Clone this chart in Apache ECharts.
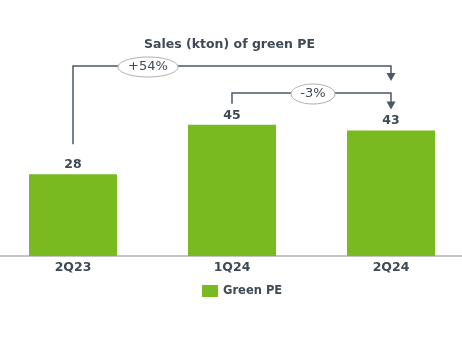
<!DOCTYPE html>
<html>
<head>
<meta charset="utf-8">
<script src="https://cdn.jsdelivr.net/npm/echarts@6/dist/echarts.min.js"></script>
<style>html,body{margin:0;padding:0;background:#fff}#c{width:462px;height:340px}</style>
</head>
<body>
<div id="c"></div>
<script>
const categories = ['2Q23', '1Q24', '2Q24'];
const greenPE = [28, 45, 43];
const seriesName = 'Green PE';
const titleText = 'Sales (kton) of green PE';
const changeFrom = [0, 1];
const changeTo = [2, 2];
const changeLabels = ['+54%', '-3%'];

const GREEN = '#7aba21';
const DARK = '#3e4a56';
const LINE = '#4b5865';
const FONT = 'DejaVu Sans';

const chart = echarts.init(document.getElementById('c'), null, {renderer: 'canvas'});
chart.setOption({
  animation: false,
  backgroundColor: '#fff',
  title: {
    text: titleText, left: 139, top: 33,
    textStyle: {fontFamily: FONT, fontSize: 12.5, fontWeight: 'bold', color: DARK}
  },
  legend: {
    data: [seriesName], left: 202, top: 285, padding: 0, itemWidth: 16, itemHeight: 12, itemGap: 5,
    icon: 'rect',
    textStyle: {fontFamily: FONT, fontSize: 11.5, fontWeight: 'bold', color: DARK}
  },
  grid: {left: -6.5, right: -8.5, top: 81, bottom: 84, containLabel: false, outerBoundsMode: 'none'},
  xAxis: {
    type: 'category', data: categories,
    axisLine: {lineStyle: {color: '#c3c3c3', width: 2}},
    axisTick: {show: false},
    axisLabel: {margin: 5, fontFamily: FONT, fontSize: 12.5, fontWeight: 'bold', color: DARK}
  },
  yAxis: {type: 'value', min: 0, max: 60, show: false, splitLine: {show: false}},
  series: [{
    name: seriesName, type: 'bar', data: greenPE, barWidth: 88,
    itemStyle: {color: GREEN},
    label: {show: true, position: 'top', distance: 3, fontFamily: FONT, fontSize: 12.5, fontWeight: 'bold', color: DARK}
  }]
});

function px(i) { return chart.convertToPixel({seriesIndex: 0}, [i, greenPE[i]]); }
const levels = [66, 93];
const graphics = [];
for (let k = 0; k < changeLabels.length; k++) {
  const a = px(changeFrom[k]);
  const b = px(changeTo[k]);
  const yl = levels[k];
  const startY = a[1] - (k === 0 ? 30 : 21);
  const tipY = k === 0 ? 81 : b[1] - 21;
  graphics.push({
    type: 'polyline', silent: true,
    shape: {points: [[a[0], startY], [a[0], yl], [b[0], yl], [b[0], tipY - 7]]},
    style: {stroke: LINE, lineWidth: 1.5, fill: null}
  });
  graphics.push({
    type: 'polygon', silent: true,
    shape: {points: [[b[0] - 4.5, tipY - 8], [b[0] + 4.5, tipY - 8], [b[0], tipY]]},
    style: {fill: LINE}
  });
  const cx = k === 0 ? a[0] + 75 : (a[0] + b[0]) / 2 + 1.5;
  const rx = k === 0 ? 30 : 22;
  graphics.push({
    type: 'ellipse', silent: true,
    shape: {cx: cx, cy: yl + 1, rx: rx, ry: 10},
    style: {fill: '#fff', stroke: '#b0b0b0', lineWidth: 1}
  });
  graphics.push({
    type: 'text', silent: true, x: cx, y: yl + 1,
    style: {text: changeLabels[k], fontFamily: FONT, fontSize: 13, fill: DARK, align: 'center', verticalAlign: 'middle'}
  });
}
chart.setOption({graphic: graphics});
</script>
</body>
</html>
